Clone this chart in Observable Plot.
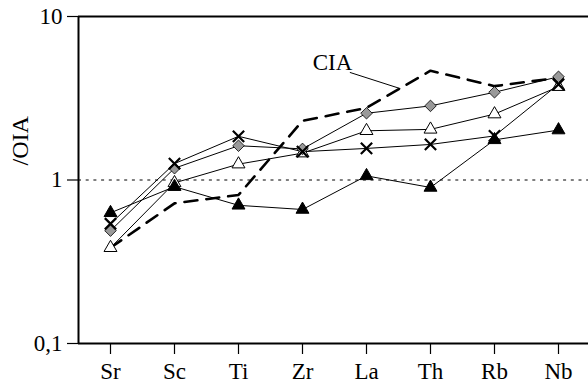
<!DOCTYPE html>
<html><head><meta charset="utf-8">
<script src="https://cdn.jsdelivr.net/npm/d3@7"></script>
<script src="https://cdn.jsdelivr.net/npm/@observablehq/plot@0.6"></script>
<style>body{margin:0;background:#fff} svg{display:block}</style>
</head><body><div id="chart"></div>
<script>
const elements = ["Sr","Sc","Ti","Zr","La","Th","Rb","Nb"];
const filledTri = [0.63,0.91,0.70,0.66,1.06,0.90,1.76,2.02];
const crosses   = [0.54,1.26,1.85,1.49,1.56,1.65,1.86,3.85];
const diamonds  = [0.49,1.18,1.62,1.55,2.56,2.84,3.44,4.28];
const openTri   = [0.385,0.96,1.25,1.46,2.0,2.04,2.53,3.72];
const cia       = [0.385,0.72,0.81,2.30,2.76,4.66,3.75,4.22];
const yTicks = [0.1, 1, 10];
const yTickLabels = ["0,1", "1", "10"];
const yLabel = "/OIA";
const ciaLabel = [{x: 3.47, y: 5.2, text: "CIA"}];
const ciaLeader = [{x1: 3.74, y1: 4.55, x2: 4.53, y2: 3.62}];

const toRows = vals => vals.map((v, i) => ({i, v}));
const ft = toRows(filledTri), cr = toRows(crosses), di = toRows(diamonds),
      ot = toRows(openTri), ci = toRows(cia);
const idx = elements.map((e, i) => i);
const yLabelMap = new Map(yTicks.map((t, i) => [t, yTickLabels[i]]));
const FS = 23;

const chart = Plot.plot({
  width: 588, height: 385,
  marginTop: 16, marginBottom: 42, marginLeft: 78, marginRight: -2,
  style: {fontFamily: "'Liberation Serif', 'Times New Roman', serif", fontSize: FS + "px", color: "#000", background: "#fff"},
  x: {domain: [-0.5, 7.5], axis: null},
  y: {type: "log", domain: [0.1, 10], axis: null},
  marks: [
    Plot.ruleY([1], {stroke: "#000", strokeWidth: 1, strokeDasharray: "3,4.7"}),
    Plot.line(ci, {x: "i", y: "v", stroke: "#000", strokeWidth: 2.6, strokeDasharray: "13,9"}),
    Plot.line(ft, {x: "i", y: "v", stroke: "#000", strokeWidth: 1}),
    Plot.line(cr, {x: "i", y: "v", stroke: "#000", strokeWidth: 1}),
    Plot.line(di, {x: "i", y: "v", stroke: "#000", strokeWidth: 1}),
    Plot.line(ot, {x: "i", y: "v", stroke: "#000", strokeWidth: 1}),
    Plot.dot(ot, {x: "i", y: "v", symbol: "triangle", r: 4.8, fill: "#fff", stroke: "#000", strokeWidth: 1}),
    Plot.dot(di, {x: "i", y: "v", symbol: "diamond2", r: 5.2, fill: "#999", stroke: "#000", strokeWidth: 0.8}),
    Plot.dot(ft, {x: "i", y: "v", symbol: "triangle", r: 4.8, fill: "#000", stroke: "#000", strokeWidth: 1}),
    Plot.dot(cr, {x: "i", y: "v", symbol: "times", r: 5.2, stroke: "#000", strokeWidth: 2.2}),
    Plot.link(ciaLeader, {x1: "x1", y1: "y1", x2: "x2", y2: "y2", stroke: "#000", strokeWidth: 1}),
    Plot.text(ciaLabel, {x: "x", y: "y", text: "text", fontSize: FS, fill: "#000"}),
    Plot.axisX(idx, {tickSize: 11, tickPadding: 8, tickFormat: i => elements[i], fontSize: FS, stroke: "#000", strokeWidth: 1.2, label: null}),
    Plot.axisY(yTicks, {tickSize: 11, tickPadding: 5, tickFormat: d => yLabelMap.get(d), fontSize: FS, stroke: "#000", strokeWidth: 1.2, label: null}),
    Plot.ruleX([-0.5], {stroke: "#000", strokeWidth: 2}),
    Plot.ruleY([0.1, 10], {stroke: "#000", strokeWidth: 2}),
    Plot.text([yLabel], {frameAnchor: "left", rotate: -90, dx: -58, dy: -14.5, fontSize: 24, fill: "#000"})
  ]
});
document.getElementById("chart").appendChild(chart);
</script>
</body></html>
